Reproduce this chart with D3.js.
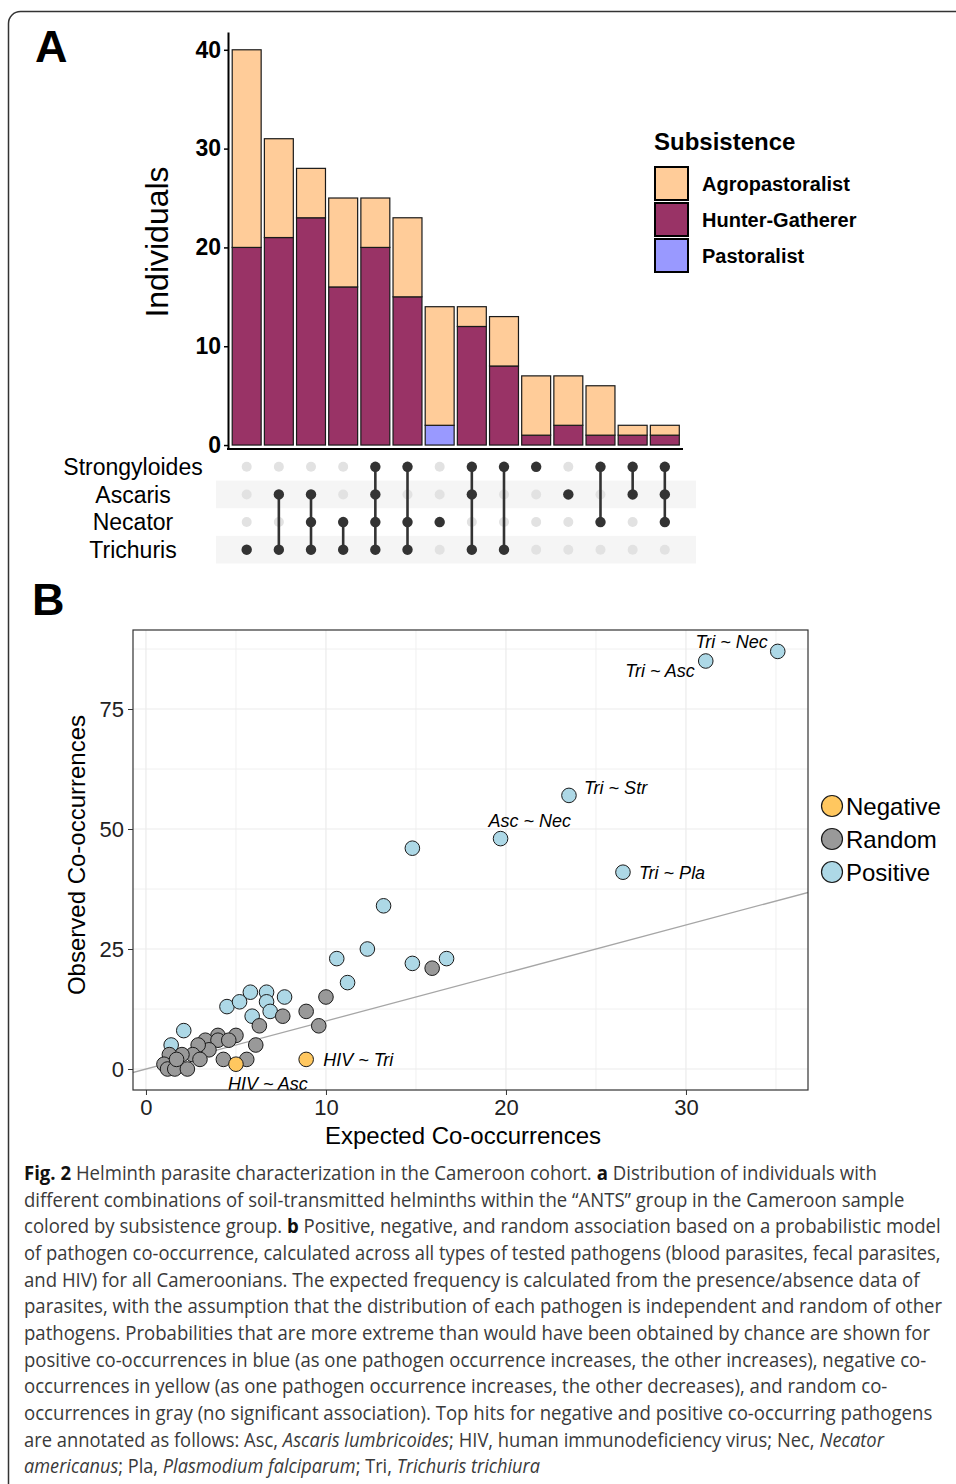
<!doctype html>
<html>
<head>
<meta charset="utf-8">
<script src="https://cdn.jsdelivr.net/npm/d3@7"></script>
<style>
  body { margin: 0; background: #fff; }
  svg { display: block; font-family: "Liberation Sans", Arial, sans-serif; }
</style>
</head>
<body>
<svg width="956" height="1484"></svg>
<script>
// ---- panel A data (upset plot) ----
const barIds = d3.range(14);
const agroCounts     = [20, 10, 5, 9, 5, 8, 12, 2, 5, 6, 5, 5, 1, 1];
const hunterCounts   = [20, 21, 23, 16, 20, 15, 0, 12, 8, 1, 2, 1, 1, 1];
const pastoralCounts = [0, 0, 0, 0, 0, 0, 2, 0, 0, 0, 0, 0, 0, 0];
const subsistence = ["Agropastoralist", "Hunter-Gatherer", "Pastoralist"];
const helminths = ["Strongyloides", "Ascaris", "Necator", "Trichuris"];
const barSets = [
  ["Trichuris"],
  ["Ascaris", "Trichuris"],
  ["Ascaris", "Necator", "Trichuris"],
  ["Necator", "Trichuris"],
  ["Strongyloides", "Ascaris", "Necator", "Trichuris"],
  ["Strongyloides", "Necator", "Trichuris"],
  ["Necator"],
  ["Strongyloides", "Ascaris", "Trichuris"],
  ["Strongyloides", "Trichuris"],
  ["Strongyloides"],
  ["Ascaris"],
  ["Strongyloides", "Necator"],
  ["Strongyloides", "Ascaris"],
  ["Strongyloides", "Ascaris", "Necator"]
];
const yTicksA = [0, 10, 20, 30, 40];

// ---- panel B data (co-occurrence) ----
const pointExpected = [35.1, 31.1, 23.5, 19.7, 26.5, 14.8, 13.2, 12.3, 10.6, 11.2, 14.8, 16.7,
  4.5, 5.2, 5.8, 6.7, 7.7, 6.7, 5.9, 6.9, 2.1, 1.4,
  15.9, 10.0, 8.9, 7.6, 9.6, 6.3, 5.0, 4.0, 3.3, 4.0, 4.6, 6.1, 5.6, 4.3, 3.5, 2.9, 2.6, 2.0, 1.3, 1.0, 1.2, 1.6, 2.3, 1.7, 3.0,
  8.9, 5.0];
const pointObserved = [87, 85, 57, 48, 41, 46, 34, 25, 23, 18, 22, 23,
  13, 14, 16, 16, 15, 14, 11, 12, 8, 5,
  21, 15, 12, 11, 9, 9, 7, 7, 6, 6, 6, 5, 2, 2, 4, 5, 3, 3, 3, 1, 0, 0, 0, 2, 2,
  2, 1];
const pointType = [
  "Positive", "Positive", "Positive", "Positive", "Positive", "Positive", "Positive", "Positive", "Positive", "Positive", "Positive", "Positive",
  "Positive", "Positive", "Positive", "Positive", "Positive", "Positive", "Positive", "Positive", "Positive", "Positive",
  "Random", "Random", "Random", "Random", "Random", "Random", "Random", "Random", "Random", "Random", "Random", "Random", "Random",
  "Random", "Random", "Random", "Random", "Random", "Random", "Random", "Random", "Random", "Random", "Random", "Random",
  "Negative", "Negative"];
const pointLabel = ["Tri ~ Nec", "Tri ~ Asc", "Tri ~ Str", "Asc ~ Nec", "Tri ~ Pla"];
pointLabel[47] = "HIV ~ Tri";
pointLabel[48] = "HIV ~ Asc";
const associations = ["Negative", "Random", "Positive"];
const xTicksB = [0, 10, 20, 30];
const yTicksB = [0, 25, 50, 75];

// ---- caption ----
const captionLines = [
  [["Fig. 2", "b"], [" Helminth parasite characterization in the Cameroon cohort. "], ["a", "b"], [" Distribution of individuals with"]],
  [["different combinations of soil-transmitted helminths within the \u201cANTS\u201d group in the Cameroon sample"]],
  [["colored by subsistence group. "], ["b", "b"], [" Positive, negative, and random association based on a probabilistic model"]],
  [["of pathogen co-occurrence, calculated across all types of tested pathogens (blood parasites, fecal parasites,"]],
  [["and HIV) for all Cameroonians. The expected frequency is calculated from the presence/absence data of"]],
  [["parasites, with the assumption that the distribution of each pathogen is independent and random of other"]],
  [["pathogens. Probabilities that are more extreme than would have been obtained by chance are shown for"]],
  [["positive co-occurrences in blue (as one pathogen occurrence increases, the other increases), negative co-"]],
  [["occurrences in yellow (as one pathogen occurrence increases, the other decreases), and random co-"]],
  [["occurrences in gray (no significant association). Top hits for negative and positive co-occurring pathogens"]],
  [["are annotated as follows: Asc, "], ["Ascaris lumbricoides", "i"], ["; HIV, human immunodeficiency virus; Nec, "], ["Necator", "i"]],
  [["americanus", "i"], ["; Pla, "], ["Plasmodium falciparum", "i"], ["; Tri, "], ["Trichuris trichiura", "i"]]
];
const captionEnds = [877, 905, 941, 941, 920, 943, 931, 927, 888, 933, 884, 540];

const svg = d3.select("svg");

// figure frame
svg.append("rect")
  .attr("x", 8.5).attr("y", 11.5).attr("width", 1100).attr("height", 1600)
  .attr("rx", 12).attr("fill", "none").attr("stroke", "#333").attr("stroke-width", 1.5);

// panel letters
svg.append("text").attr("x", 35).attr("y", 62).text("A")
  .style("font-size", "45px").style("font-weight", "bold");
svg.append("text").attr("x", 32).attr("y", 615).text("B")
  .style("font-size", "45px").style("font-weight", "bold");

// ================= PANEL A =================
const fillA = d3.scaleOrdinal().domain(subsistence).range(["#FFCC99", "#993366", "#9999FF"]);

const xA = d3.scaleBand().domain(barIds).range([230.6, 680.9]).paddingInner(0.1).paddingOuter(0.05);
const yA = d3.scaleLinear().domain([-0.4, 41.8]).range([449, 32]);

const barRows = barIds.map(i => ({
  id: i,
  "Agropastoralist": agroCounts[i],
  "Hunter-Gatherer": hunterCounts[i],
  "Pastoralist": pastoralCounts[i]
}));
const stacked = d3.stack().keys(["Pastoralist", "Hunter-Gatherer", "Agropastoralist"])(barRows);

const gA = svg.append("g");
stacked.forEach(layer => {
  gA.selectAll(null)
    .data(layer.filter(d => d[1] > d[0]))
    .enter().append("rect")
      .attr("x", d => xA(d.data.id))
      .attr("width", xA.bandwidth())
      .attr("y", d => yA(d[1]))
      .attr("height", d => yA(d[0]) - yA(d[1]))
      .attr("fill", fillA(layer.key))
      .attr("stroke", "#1a1a1a")
      .attr("stroke-width", 1.2);
});

const axA = svg.append("g").attr("transform", "translate(228,0)")
  .call(d3.axisLeft(yA).tickValues(yTicksA).tickSize(4).tickPadding(3).tickSizeOuter(0));
axA.select(".domain").attr("stroke", "#000").attr("stroke-width", 2);
axA.selectAll(".tick line").attr("stroke", "#000").attr("stroke-width", 1.5);
axA.selectAll(".tick text").style("font-size", "23px").style("font-weight", "bold")
  .style("font-family", "'Liberation Sans', Arial, sans-serif").attr("fill", "#000");

svg.append("line").attr("x1", 227).attr("x2", 683).attr("y1", 449).attr("y2", 449)
  .attr("stroke", "#000").attr("stroke-width", 2);

svg.append("text")
  .attr("transform", "translate(168,242) rotate(-90)")
  .attr("text-anchor", "middle")
  .style("font-size", "32px")
  .text("Individuals");

// legend A
const legA = svg.append("g").attr("transform", "translate(654,0)");
legA.append("text").attr("x", 0).attr("y", 150).text("Subsistence")
  .style("font-size", "24px").style("font-weight", "bold");
subsistence.forEach((s, i) => {
  const y0 = 167 + i * 36;
  legA.append("rect").attr("x", 1).attr("y", y0).attr("width", 33).attr("height", 33)
    .attr("fill", fillA(s)).attr("stroke", "#000").attr("stroke-width", 2);
  legA.append("text").attr("x", 48).attr("y", y0 + 16.5).attr("dy", "0.36em")
    .style("font-size", "20px").style("font-weight", "bold").text(s);
});

// matrix
const rowA = d3.scaleBand().domain(helminths).range([453, 563.5]);
const gM = svg.append("g");
helminths.forEach((h, i) => {
  if (i % 2 === 1) {
    gM.append("rect").attr("x", 216).attr("width", 480)
      .attr("y", rowA(h)).attr("height", rowA.bandwidth())
      .attr("fill", "#F5F5F5");
  }
  gM.append("text").attr("x", 133).attr("y", rowA(h) + rowA.bandwidth() / 2)
    .attr("dy", "0.36em").attr("text-anchor", "middle")
    .style("font-size", "23px").text(h);
});
const rowY = h => rowA(h) + rowA.bandwidth() / 2;
barIds.forEach(i => {
  const cx = xA(i) + xA.bandwidth() / 2;
  helminths.forEach(h => {
    gM.append("circle").attr("cx", cx).attr("cy", rowY(h)).attr("r", 5)
      .attr("fill", "#E2E2E2");
  });
  const ys = barSets[i].map(rowY);
  if (ys.length > 1) {
    gM.append("line").attr("x1", cx).attr("x2", cx)
      .attr("y1", d3.min(ys)).attr("y2", d3.max(ys))
      .attr("stroke", "#333").attr("stroke-width", 2.6);
  }
  barSets[i].forEach(h => {
    gM.append("circle").attr("cx", cx).attr("cy", rowY(h)).attr("r", 5.2)
      .attr("fill", "#333");
  });
});

// ================= PANEL B =================
const xB = d3.scaleLinear().domain([-0.72, 36.78]).range([133, 808]);
const yB = d3.scaleLinear().domain([-4.375, 91.46]).range([1090, 630]);
const fillB = d3.scaleOrdinal().domain(associations).range(["#FFC75F", "#999999", "#ADD8E6"]);

const gB = svg.append("g");
// grid
const minorX = [5, 15, 25, 35], minorY = [12.5, 37.5, 62.5, 87.5];
gB.selectAll(".mx").data(minorX).enter().append("line")
  .attr("x1", xB).attr("x2", xB).attr("y1", 630).attr("y2", 1090)
  .attr("stroke", "#F0F0F0").attr("stroke-width", 1);
gB.selectAll(".my").data(minorY).enter().append("line")
  .attr("y1", yB).attr("y2", yB).attr("x1", 133).attr("x2", 808)
  .attr("stroke", "#F0F0F0").attr("stroke-width", 1);
gB.selectAll(".gx").data(xTicksB).enter().append("line")
  .attr("x1", xB).attr("x2", xB).attr("y1", 630).attr("y2", 1090)
  .attr("stroke", "#EBEBEB").attr("stroke-width", 1.2);
gB.selectAll(".gy").data(yTicksB).enter().append("line")
  .attr("y1", yB).attr("y2", yB).attr("x1", 133).attr("x2", 808)
  .attr("stroke", "#EBEBEB").attr("stroke-width", 1.2);

// identity line
svg.append("defs").append("clipPath").attr("id", "clipB")
  .append("rect").attr("x", 133).attr("y", 630).attr("width", 675).attr("height", 460);
gB.append("line")
  .attr("clip-path", "url(#clipB)")
  .attr("x1", xB(-5)).attr("y1", yB(-5)).attr("x2", xB(40)).attr("y2", yB(40))
  .attr("stroke", "#A6A6A6").attr("stroke-width", 1.3);

// points: positive, then random, then negative on top
const pts = pointExpected.map((e, i) => ({ e, o: pointObserved[i], t: pointType[i], label: pointLabel[i] }));
const drawOrder = ["Positive", "Random", "Negative"];
drawOrder.forEach(t => {
  gB.selectAll(null).data(pts.filter(p => p.t === t)).enter().append("circle")
    .attr("cx", d => xB(d.e)).attr("cy", d => yB(d.o)).attr("r", 7.3)
    .attr("fill", fillB(t)).attr("stroke", "#1a1a1a").attr("stroke-width", 1);
});

// label placement (offset from point, anchor)
const labelPlace = {
  "Tri ~ Nec": [-10, -3, "end"],
  "Tri ~ Asc": [-11, 16, "end"],
  "Tri ~ Str": [15, -1, "start"],
  "Asc ~ Nec": [-12, -12, "start"],
  "Tri ~ Pla": [16, 7, "start"],
  "HIV ~ Tri": [17, 7, "start"],
  "HIV ~ Asc": [-8, 26, "start"]
};
gB.selectAll(null).data(pts.filter(p => p.label)).enter().append("text")
  .attr("x", d => xB(d.e) + labelPlace[d.label][0])
  .attr("y", d => yB(d.o) + labelPlace[d.label][1])
  .attr("text-anchor", d => labelPlace[d.label][2])
  .style("font-size", "18px").style("font-style", "italic")
  .text(d => d.label);

// panel border
gB.append("rect").attr("x", 133).attr("y", 630).attr("width", 675).attr("height", 460)
  .attr("fill", "none").attr("stroke", "#333").attr("stroke-width", 1.2);

// axes
const axBx = svg.append("g").attr("transform", "translate(0,1090)")
  .call(d3.axisBottom(xB).tickValues(xTicksB).tickSize(5).tickPadding(4));
const axBy = svg.append("g").attr("transform", "translate(133,0)")
  .call(d3.axisLeft(yB).tickValues(yTicksB).tickSize(5).tickPadding(4));
[axBx, axBy].forEach(ax => {
  ax.select(".domain").remove();
  ax.selectAll(".tick line").attr("stroke", "#333");
  ax.selectAll(".tick text").style("font-size", "22px")
    .style("font-family", "'Liberation Sans', Arial, sans-serif").attr("fill", "#222");
});

svg.append("text").attr("x", 463).attr("y", 1144).attr("text-anchor", "middle")
  .style("font-size", "24px").text("Expected Co-occurrences");
svg.append("text").attr("transform", "translate(85,855) rotate(-90)")
  .attr("text-anchor", "middle").style("font-size", "24px").text("Observed Co-occurrences");

// legend B
associations.forEach((a, i) => {
  const cy = 806 + i * 33;
  svg.append("circle").attr("cx", 832).attr("cy", cy).attr("r", 10.5)
    .attr("fill", fillB(a)).attr("stroke", "#1a1a1a").attr("stroke-width", 1.2);
  svg.append("text").attr("x", 846).attr("y", cy).attr("dy", "0.36em")
    .style("font-size", "24px").text(a);
});

// ================= CAPTION =================
// each segment is its own text; the line group is squeezed to the target width
const capG = svg.append("g").style("font-family", "'Open Sans', 'Noto Sans', sans-serif");
captionLines.forEach((segs, i) => {
  const line = capG.append("g");
  let cx = 0;
  segs.forEach(s => {
    const t = line.append("text")
      .attr("x", cx).attr("y", 0)
      .style("font-size", "19.5px").style("white-space", "pre")
      .attr("fill", "#3a3a3a")
      .text(s[0]);
    if (s[1] === "b") t.style("font-weight", "bold").attr("fill", "#111");
    if (s[1] === "i") t.style("font-style", "italic");
    cx += t.node().getComputedTextLength();
  });
  const sx = (captionEnds[i] - 24) / cx;
  line.attr("transform", `translate(24,${1180 + i * 26.65}) scale(${sx},1)`);
});
</script>
</body>
</html>
